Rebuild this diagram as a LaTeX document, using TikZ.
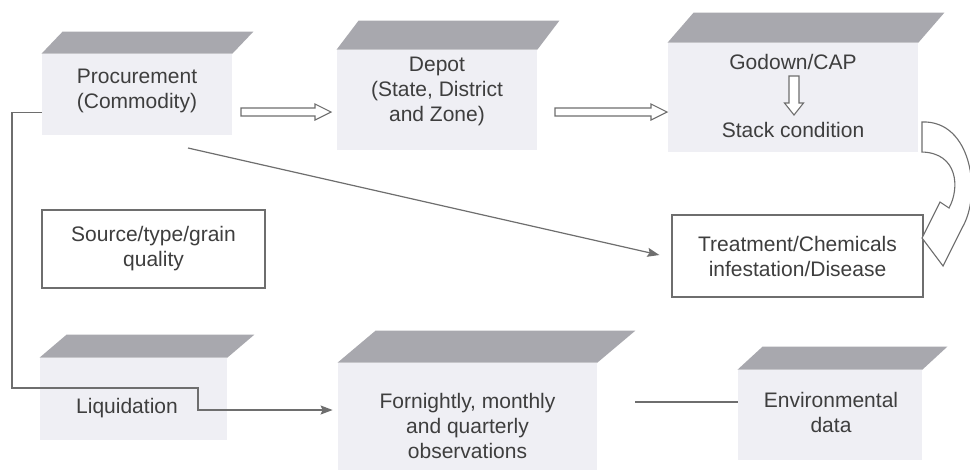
\documentclass[tikz,border=0pt]{standalone}
\usepackage{fontspec}
\setmainfont{Liberation Sans}
\usetikzlibrary{calc,arrows.meta}
\definecolor{topgray}{RGB}{168,168,174}
\definecolor{facegray}{RGB}{239,239,244}
\definecolor{linegray}{RGB}{110,110,110}
\definecolor{textgray}{RGB}{62,62,62}
\newcommand\hollowarr[5]{%
  \path ($(#2)!#5!(#1)$) coordinate (bac);
  \draw[hollowline] ($(#1)!#3!90:(#2)$) -- ($(bac)!#3!90:(#2)$) -- ($(bac)!#4!90:(#2)$) -- (#2)
    -- ($(bac)!#4!-90:(#2)$) -- ($(bac)!#3!-90:(#2)$) -- ($(#1)!#3!-90:(#2)$) -- cycle;
}
\newcommand\boxtop[3]{%
  \fill[topgray] (#1.north west) -- (#1.north east) -- ++(#2,-#3) -- ($(#1.north west)+(#2,-#3)$) -- cycle;
}
\tikzset{
  face/.style={fill=facegray, inner sep=0pt, align=center, text=textgray},
  plainbox/.style={draw=linegray, line width=0.6pt, fill=white, inner sep=0pt, align=center, text=textgray},
  lbl/.style={text=textgray, inner sep=0pt, align=center},
  hollowline/.style={draw=linegray, line width=0.55pt, fill=white, line join=miter},
  conn/.style={draw=linegray, line width=0.6pt},
  tip/.style={-{Stealth[length=6pt,width=4.5pt,inset=1pt]}}
}
\begin{document}
\begin{tikzpicture}[x=0.5pt,y=-0.5pt,font=\fontsize{10.5}{12.5}\selectfont]
\useasboundingbox (0,0) rectangle (970,473);
\fill[white] (0,0) rectangle (970,473);

% 3D boxes
\node[face, minimum width=95pt, minimum height=40.5pt] (proc) at (137,94.5) {};
\boxtop{proc}{21}{22}
\node[lbl] (proct) at (137,91) {Procurement\\(Commodity)};
\node[face, minimum width=100pt, minimum height=50pt] (depot) at (437,100) {};
\boxtop{depot}{22}{29}
\node[lbl] (depott) at (437,91) {Depot\\(State, District\\and Zone)};
\node[face, minimum width=125pt, minimum height=54.5pt] (godown) at (793,97.5) {};
\boxtop{godown}{26}{30}
\node[lbl] (gtop) at (793,62) {Godown/CAP};
\node[lbl] (gbot) at (793,130) {Stack condition};
\node[face, minimum width=93.5pt, minimum height=41pt] (liq) at (133.5,399) {};
\boxtop{liq}{27}{23}
\node[lbl] (liqt) at (127,408) {Liquidation};
\node[face, minimum width=129.5pt, minimum height=53.5pt] (fort) at (467.5,416.5) {};
\boxtop{fort}{38}{32}
\node[lbl] (fortt) at (467.5,426) {Fornightly, monthly\\and quarterly\\observations};
\node[face, minimum width=92pt, minimum height=45pt] (env) at (830,415) {};
\boxtop{env}{25}{23}
\node[lbl] (envt) at (831,412) {Environmental\\data};

% plain boxes
\node[plainbox, minimum width=111.5pt, minimum height=39pt] (src) at (153.5,249) {Source/type/grain\\quality};
\node[plainbox, minimum width=125.5pt, minimum height=41pt] (treat) at (797.5,256) {Treatment/Chemicals\\infestation/Disease};

% hollow block arrows
\coordinate (a1s) at (241,112); \coordinate (a1e) at (331,112);
\hollowarr{a1s}{a1e}{2pt}{4pt}{8pt}
\coordinate (a2s) at (555,112); \coordinate (a2e) at (667,112);
\hollowarr{a2s}{a2e}{2pt}{4pt}{8pt}
\coordinate (a3s) at (794,76); \coordinate (a3e) at (794,115);
\hollowarr{a3s}{a3e}{2.5pt}{4.75pt}{6pt}

% curved hollow arrow (Stack condition -> Treatment)
\draw[hollowline] (922,122) .. controls (972,120) and (982,195) .. (962,228)
  -- (943,266) -- (922,238) -- (940,202) -- (949,208)
  .. controls (960,188) and (958,153) .. (922,152) -- cycle;

% connectors
\draw[conn,tip] ([yshift=-9pt]proc.west) -| (12,388) -| (198,410) -- ([yshift=3.25pt,xshift=-2.5pt]fort.west);
\coordinate (d0) at (188,148);
\draw[conn,tip] (d0) -- ([yshift=0.5pt,xshift=-6pt]treat.west);
\coordinate (e0) at (635,402);
\draw[conn] (e0) -- (env.west |- e0);
\end{tikzpicture}
\end{document}
